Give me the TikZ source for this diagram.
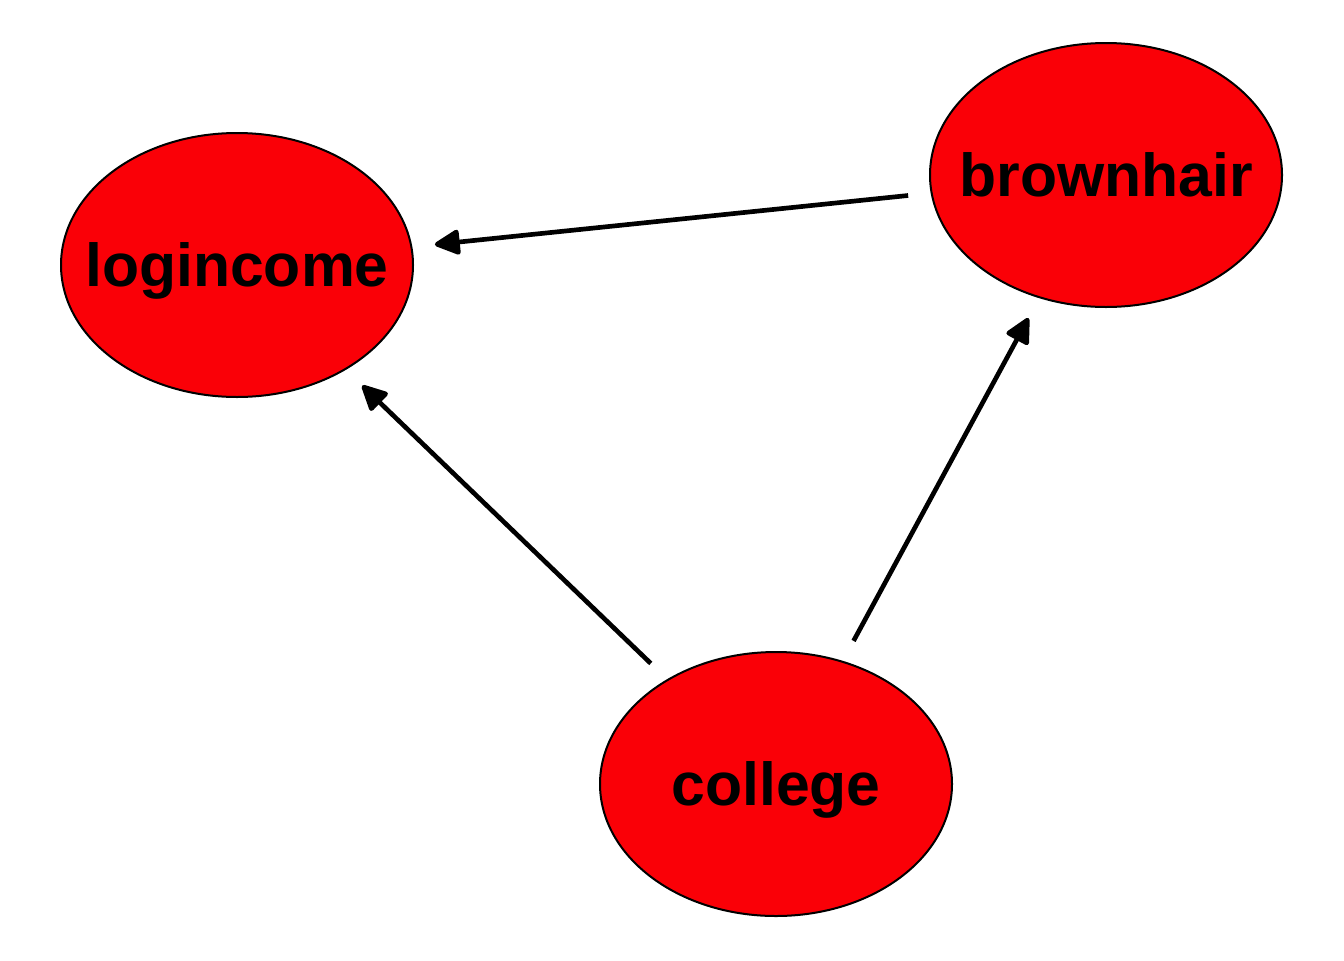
\documentclass[tikz,border=0pt]{standalone}
\usepackage{fontspec}
\setmainfont{Liberation Sans}
\usetikzlibrary{shapes.geometric,arrows.meta}
\definecolor{nodered}{RGB}{250,0,7}
\newcommand{\lbl}[1]{\makebox[0pt]{\smash{\raisebox{-16pt}{#1}}}}
\tikzset{
  var/.style={ellipse, draw=black, line width=1.5pt, fill=nodered, minimum width=264pt, minimum height=198pt, inner sep=0pt, font=\fontsize{45.5}{50}\selectfont\bfseries},
  edge/.style={line width=3.5pt, -{Triangle[length=21pt,width=20pt,round]}, shorten >=17pt, shorten <=17pt}
}
\begin{document}
\begin{tikzpicture}[x=0.75pt,y=-0.75pt]
\useasboundingbox (0,0) rectangle (1344,960);
\node[var] (logincome) at (237,265) {\lbl{logincome}};
\node[var] (brownhair) at (1106,175) {\lbl{brownhair}};
\node[var] (college) at (776,784) {\lbl{college}};
\draw[edge] (brownhair) -- (logincome);
\draw[edge] (college) -- (logincome);
\draw[edge] (college) -- (brownhair);
\end{tikzpicture}
\end{document}
